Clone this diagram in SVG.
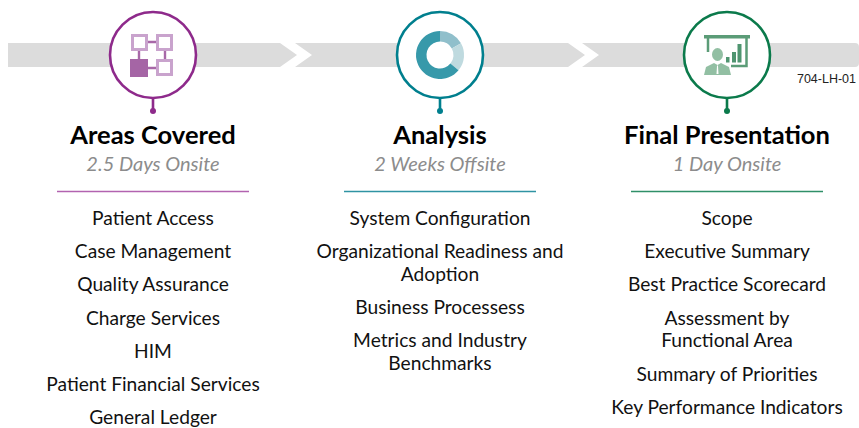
<svg xmlns="http://www.w3.org/2000/svg" width="859" height="428" viewBox="0 0 859 428">
<style>
text{font-family:Lato,"Liberation Sans",sans-serif;text-anchor:middle}
.t{font-size:25.500px;font-weight:700;fill:#000}
.s{font-size:20px;font-style:italic;fill:#8c8c8c}
.i{font-size:19.200px;fill:#111}
.c{fill:#fff;stroke-width:2.6}
.bar{fill:#dcdcdc}
.b{fill:#fff;stroke:#c9a3cd;stroke-width:3}
</style>
<g id="connectors">
<path class="bar" d="M8 43H280L297 55L280 67H8Z"/>
<path class="bar" d="M295 43H568L585 55L568 67H295L312 55Z"/>
<path class="bar" d="M582 43H855Q859 43 859 47V63Q859 67 855 67H582L599 55Z"/>
</g>
<g id="node-areas">
<path d="M153 98V111" stroke="#8e2a8b" stroke-width="2.6"/><circle cx="153" cy="111" r="3" fill="#8e2a8b"/>
<circle class="c" cx="153" cy="55" r="43" stroke="#8e2a8b"/>
<path d="M147 42H158M139 51V60M165 51V60M147 68H158" stroke="#a868a8" stroke-width="2.4" fill="none"/>
<rect class="b" x="132.500" y="35.500" width="14" height="14"/>
<rect class="b" x="157.500" y="35.500" width="14" height="14"/>
<rect class="b" x="157.500" y="60.500" width="14" height="14"/>
<rect x="130" y="59" width="18" height="18" fill="#a565a5"/>
<text class="t" x="153" y="144">Areas Covered</text>
<text class="s" x="153" y="171">2.5 Days Onsite</text>
<path d="M57 191.500H249" stroke="#b263b0" stroke-width="1.5"/>
<text class="i" x="153" y="225">Patient Access</text>
<text class="i" x="153" y="258">Case Management</text>
<text class="i" x="153" y="291">Quality Assurance</text>
<text class="i" x="153" y="325">Charge Services</text>
<text class="i" x="153" y="358">HIM</text>
<text class="i" x="153" y="391">Patient Financial Services</text>
<text class="i" x="153" y="423.500">General Ledger</text>
</g>
<g id="node-analysis">
<path d="M440 98V111" stroke="#007f8e" stroke-width="2.6"/><circle cx="440" cy="111" r="3" fill="#007f8e"/>
<circle class="c" cx="440" cy="55" r="43" stroke="#007f8e"/>
<path d="M440 31A24 24 0 0 1 461 43.300L451.800 48.400A13.500 13.500 0 0 0 440 41.500Z" fill="#90bfcb"/>
<path d="M461 43.300A24 24 0 0 1 458.500 70.300L450.400 63.600A13.500 13.500 0 0 0 451.800 48.400Z" fill="#bfdadf"/>
<path d="M458.500 70.300A24 24 0 1 1 440 31V41.500A13.500 13.500 0 1 0 450.400 63.600Z" fill="#3799aa"/>
<text class="t" x="440" y="144">Analysis</text>
<text class="s" x="440" y="171">2 Weeks Offsite</text>
<path d="M344 191.500H536" stroke="#2f93a3" stroke-width="1.5"/>
<text class="i" x="440" y="225">System Configuration</text>
<text class="i" x="440" y="258">Organizational Readiness and</text>
<text class="i" x="440" y="281">Adoption</text>
<text class="i" x="440" y="314">Business Processess</text>
<text class="i" x="440" y="347">Metrics and Industry</text>
<text class="i" x="440" y="370">Benchmarks</text>
</g>
<g id="node-final">
<path d="M727 98V111" stroke="#0b7a4b" stroke-width="2.6"/><circle cx="727" cy="111" r="3" fill="#0b7a4b"/>
<circle class="c" cx="727" cy="55" r="43" stroke="#0b7a4b"/>
<path d="M704 35H750V38.500H704Z" fill="#5b9c77"/>
<path d="M708 38V52M746.500 38V66H731" stroke="#5b9c77" stroke-width="2.500" fill="none"/>
<path d="M726 57h3.500v5.500h-3.500zM732 52h4v10.500h-4zM737.500 44h4v18.500h-4z" fill="#4f9570"/>
<ellipse cx="717.500" cy="54.500" rx="5.500" ry="6.500" fill="#92bfa3"/>
<path d="M704 75L706 67L714 63L717.500 65L721 63L729 67L731 75Z" fill="#92bfa3"/>
<path d="M717 65.500H718L718.500 74H716.500Z" fill="#fff"/>
<text class="t" x="727" y="144">Final Presentation</text>
<text class="s" x="727" y="171">1 Day Onsite</text>
<path d="M631 191.500H823" stroke="#2f8f68" stroke-width="1.5"/>
<text class="i" x="727" y="225">Scope</text>
<text class="i" x="727" y="258">Executive Summary</text>
<text class="i" x="727" y="291">Best Practice Scorecard</text>
<text class="i" x="727" y="325">Assessment by</text>
<text class="i" x="727" y="347">Functional Area</text>
<text class="i" x="727" y="381">Summary of Priorities</text>
<text class="i" x="727" y="414">Key Performance Indicators</text>
<text x="826.500" y="83" font-size="12.500" style="font-family:'Liberation Sans',sans-serif" fill="#222">704-LH-01</text>
</g>
</svg>
